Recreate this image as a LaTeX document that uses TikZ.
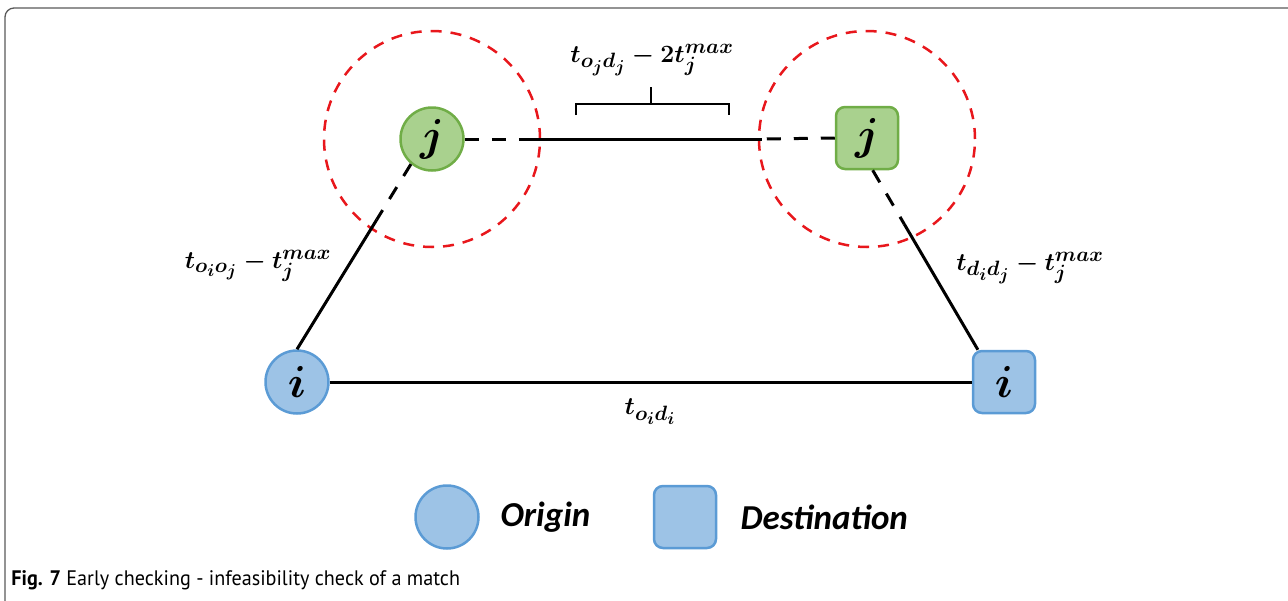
\documentclass[tikz,border=0pt]{standalone}
\usepackage{amsmath}
\usepackage{fontspec}
\newfontfamily\legendfont{Carlito}
\newfontfamily\captionfont{PT Sans}
\usepackage{tikz}
\usetikzlibrary{positioning,calc}
\definecolor{jfill}{HTML}{A9D18E}
\definecolor{jline}{HTML}{70AD47}
\definecolor{ifill}{HTML}{9DC3E6}
\definecolor{iline}{HTML}{5B9BD5}
\definecolor{zonered}{HTML}{E8171C}
\newcommand{\nodeletter}[1]{\scalebox{1.8}{\fontsize{24.88}{28}\selectfont\boldmath$#1$}}
\begin{document}
\begin{tikzpicture}[x=1pt,y=-1pt,
		jnode/.style={draw=jline, fill=jfill, line width=2.5pt},
		inode/.style={draw=iline, fill=ifill, line width=2.5pt},
		orig/.style={circle, minimum size=63pt, inner sep=0pt},
		dest/.style={rectangle, rounded corners=9pt, minimum size=62pt, inner sep=0pt},
		edge/.style={line width=3pt},
		dashedge/.style={line width=3pt, dash pattern=on 14pt off 13pt},
		zone/.style={circle, draw=zonered, line width=2.5pt, dash pattern=on 11pt off 9pt, minimum size=216pt},
		lbl/.style={font=\fontsize{24.88}{30}\selectfont\boldmath},
		legend/.style={font=\fontsize{35}{40}\selectfont\legendfont\bfseries\itshape, anchor=west}]
		\useasboundingbox (0,0) rectangle (1288,600);
		\draw[black!65, line width=1.3pt, rounded corners=9pt] (5,620) |- (1300,8);
		\node[zone] (zoneo) at (432,139) {};
		\node[zone] (zoned) at (867,139) {};
		\node[orig, jnode] (jo) at (432,139) {\nodeletter{j}};
		\node[dest, jnode] (jd) at (867,138) {\nodeletter{j}};
		\node[orig, inode] (io) at (297,382) {\nodeletter{i}};
		\node[dest, inode] (id) at (1004,382) {\nodeletter{i}};
		\coordinate (top1) at (526,139);
		\coordinate (top2) at (762,139);
		\coordinate (left1) at ($(jo.230)!0.3!(io.north)$);
		\coordinate (right1) at ($(jd.-80)!0.3!(id.129)$);
		\draw[edge] (io.east) -- (id.west);
		\draw[dashedge] (jo.east) -- (top1);
		\draw[edge] (top1) -- (top2);
		\draw[dashedge] (jd.west) -- (top2);
		\draw[dashedge] (jo.230) -- (left1);
		\draw[edge] (left1) -- (io.north);
		\draw[dashedge] (jd.-80) -- (right1);
		\draw[edge] (right1) -- (id.129);
		\node[lbl] (toplbl) at (652,60) {$t_{o_jd_j}-2t_j^{max}$};
		\draw[line width=2pt] (576,115) -- (576,104) -- (729,104) -- (729,115);
		\draw[line width=2pt] (651,104) -- (651,87);
		\node[lbl] (leftlbl) at (258,266) {$t_{o_io_j}-t_j^{max}$};
		\node[lbl] (rightlbl) at (1030,268) {$t_{d_id_j}-t_j^{max}$};
		\node[lbl] (botlbl) at (650,412) {$t_{o_id_i}$};
		\node[orig, inode] (legorig) at (447,517) {};
		\node[legend] (origtext) at (497,517) {Origin};
		\node[dest, inode] (legdest) at (685,517) {};
		\node[legend] (desttext) at (737,517) {Destination};
		\node[anchor=west, xscale=0.96, font=\fontsize{21}{25}\selectfont\captionfont] (caption) at (8,580) {\textbf{Fig. 7} Early checking - infeasibility check of a match};
	\end{tikzpicture}
\end{document}
